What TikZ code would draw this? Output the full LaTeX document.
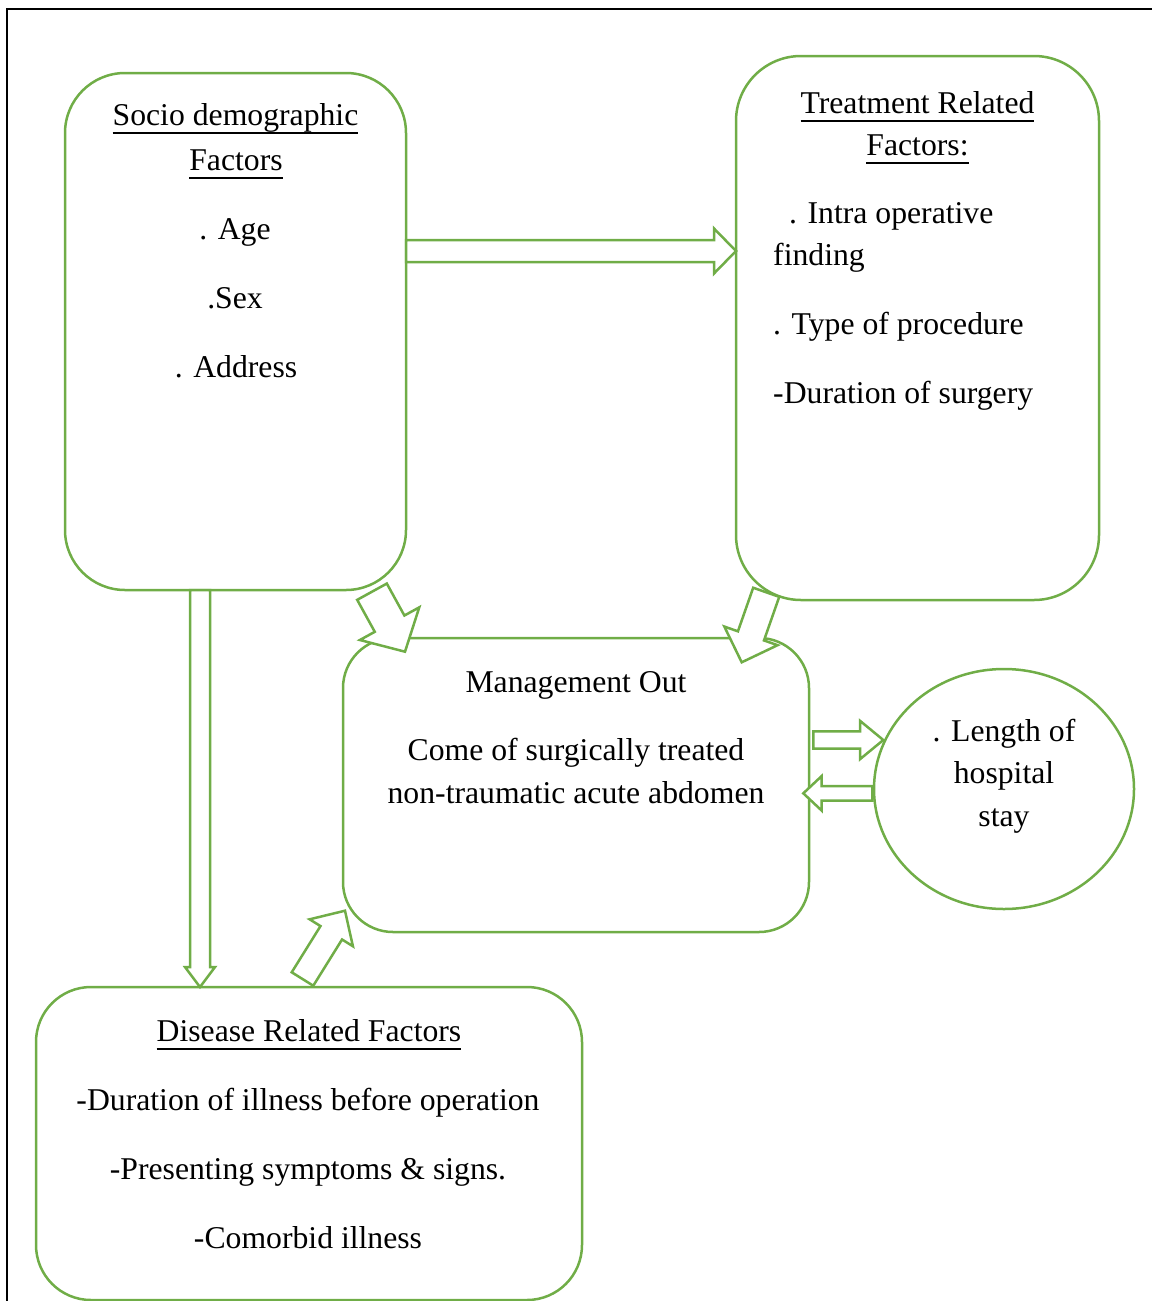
\documentclass[tikz,border=0pt]{standalone}
\usepackage{fontspec}
\setmainfont{Liberation Serif}
\usetikzlibrary{calc,shapes.geometric}
\definecolor{grn}{HTML}{70AD47}
\newsavebox\ulbox
\newcommand\myul[1]{\sbox\ulbox{#1}\rlap{\rule[-8.5pt]{\wd\ulbox}{1.8pt}}\usebox\ulbox}
% tail, tip, shaft half width, head half width, head length
\newcommand\blkarrow[5]{%
  \coordinate (hb) at ($(#2)!#5!(#1)$);
  \draw[barrow] ($(#1)!#3!90:(#2)$) -- ($(hb)!#3!90:(#2)$) -- ($(hb)!#4!90:(#2)$)
    -- (#2) -- ($(hb)!#4!-90:(#2)$) -- ($(hb)!#3!-90:(#2)$) -- ($(#1)!#3!-90:(#2)$) -- cycle;}
\begin{document}
\begin{tikzpicture}[x=1pt,y=-1pt,
  gbox/.style={draw=grn, line width=2.5pt, rounded corners=#1, inner sep=0pt},
  barrow/.style={draw=grn, fill=white, line width=2.5pt, line join=miter},
  txt/.style={inner sep=0pt, anchor=base, font=\fontsize{31.7}{40}\selectfont},
  ltxt/.style={txt, anchor=base west}]
\useasboundingbox (0,0) rectangle (1152,1301);
% page frame
\draw[line width=2.2pt] (7,1301) -- (7,9) -- (1152,9);

% boxes
\node[gbox=60pt, minimum width=341pt, minimum height=517pt] (socio) at (235.5,331.5) {};
\node[gbox=65pt, minimum width=363pt, minimum height=544pt] (treat) at (917.5,328) {};
\node[gbox=50pt, minimum width=466pt, minimum height=294pt] (mgmt) at (576,785) {};
\node[draw=grn, line width=2.5pt, ellipse, inner sep=0pt, minimum width=260pt, minimum height=240pt] (stay) at (1004,789) {};
\node[gbox=55pt, minimum width=546pt, minimum height=313pt] (dis) at (309,1143.5) {};

% arrow end points
\coordinate (a1s) at (406,251);   \coordinate (a1e) at (736,251);
\coordinate (a2s) at (200,590);   \coordinate (a2e) at (200,987);
\coordinate (a3s) at (372,591.7); \coordinate (a3e) at (405,651.7);
\coordinate (a4s) at (766.2,592.3); \coordinate (a4e) at (741.7,662.3);
\coordinate (a5s) at (302.5,979); \coordinate (a5e) at (345,910.7);
\coordinate (a6s) at (813.3,740); \coordinate (a6e) at (883.3,740);
\coordinate (a7s) at (872.3,793.3); \coordinate (a7e) at (803.3,793.3);

\blkarrow{a1s}{a1e}{11pt}{22.5pt}{22pt}
\blkarrow{a2s}{a2e}{10pt}{15pt}{20pt}
\blkarrow{a3s}{a3e}{16.9pt}{33.9pt}{32pt}
\blkarrow{a4s}{a4e}{13.8pt}{28.2pt}{28pt}
\blkarrow{a5s}{a5e}{12.7pt}{25.5pt}{26pt}
\blkarrow{a6s}{a6e}{8.7pt}{19.2pt}{23.3pt}
\blkarrow{a7s}{a7e}{7.3pt}{17.3pt}{18.4pt}

% socio text
\node[txt] (s1) at (235.5,125) {\myul{Socio demographic}};
\node[txt] (s2) at (236,170) {\myul{Factors}};
\node[txt] (s3) at (235,239) {. Age};
\node[txt] (s4) at (235,308) {.Sex};
\node[txt] (s5) at (236,377) {. Address};

% treatment text
\node[txt] (r1) at (917.5,113) {\myul{Treatment Related}};
\node[txt] (r2) at (917.5,155) {\myul{Factors:}};
\node[ltxt] (r3) at (789,223) {. Intra operative};
\node[ltxt] (r4) at (773,265) {finding};
\node[ltxt] (r5) at (773,334) {. Type of procedure};
\node[ltxt] (r6) at (773,403) {-Duration of surgery};

% management text
\node[txt] (m1) at (576,692) {Management Out};
\node[txt] (m2) at (576,760) {Come of surgically treated};
\node[txt] (m3) at (576,803) {non-traumatic acute abdomen};

% hospital stay text
\node[txt] (h1) at (1004,741) {. Length of};
\node[txt] (h2) at (1004,783) {hospital};
\node[txt] (h3) at (1004,826) {stay};

% disease text
\node[txt] (d1) at (309,1041) {\myul{Disease Related Factors}};
\node[txt] (d2) at (308,1110) {-Duration of illness before operation};
\node[txt] (d3) at (308,1179) {-Presenting symptoms \& signs.};
\node[txt] (d4) at (308,1248) {-Comorbid illness};
\end{tikzpicture}
\end{document}
